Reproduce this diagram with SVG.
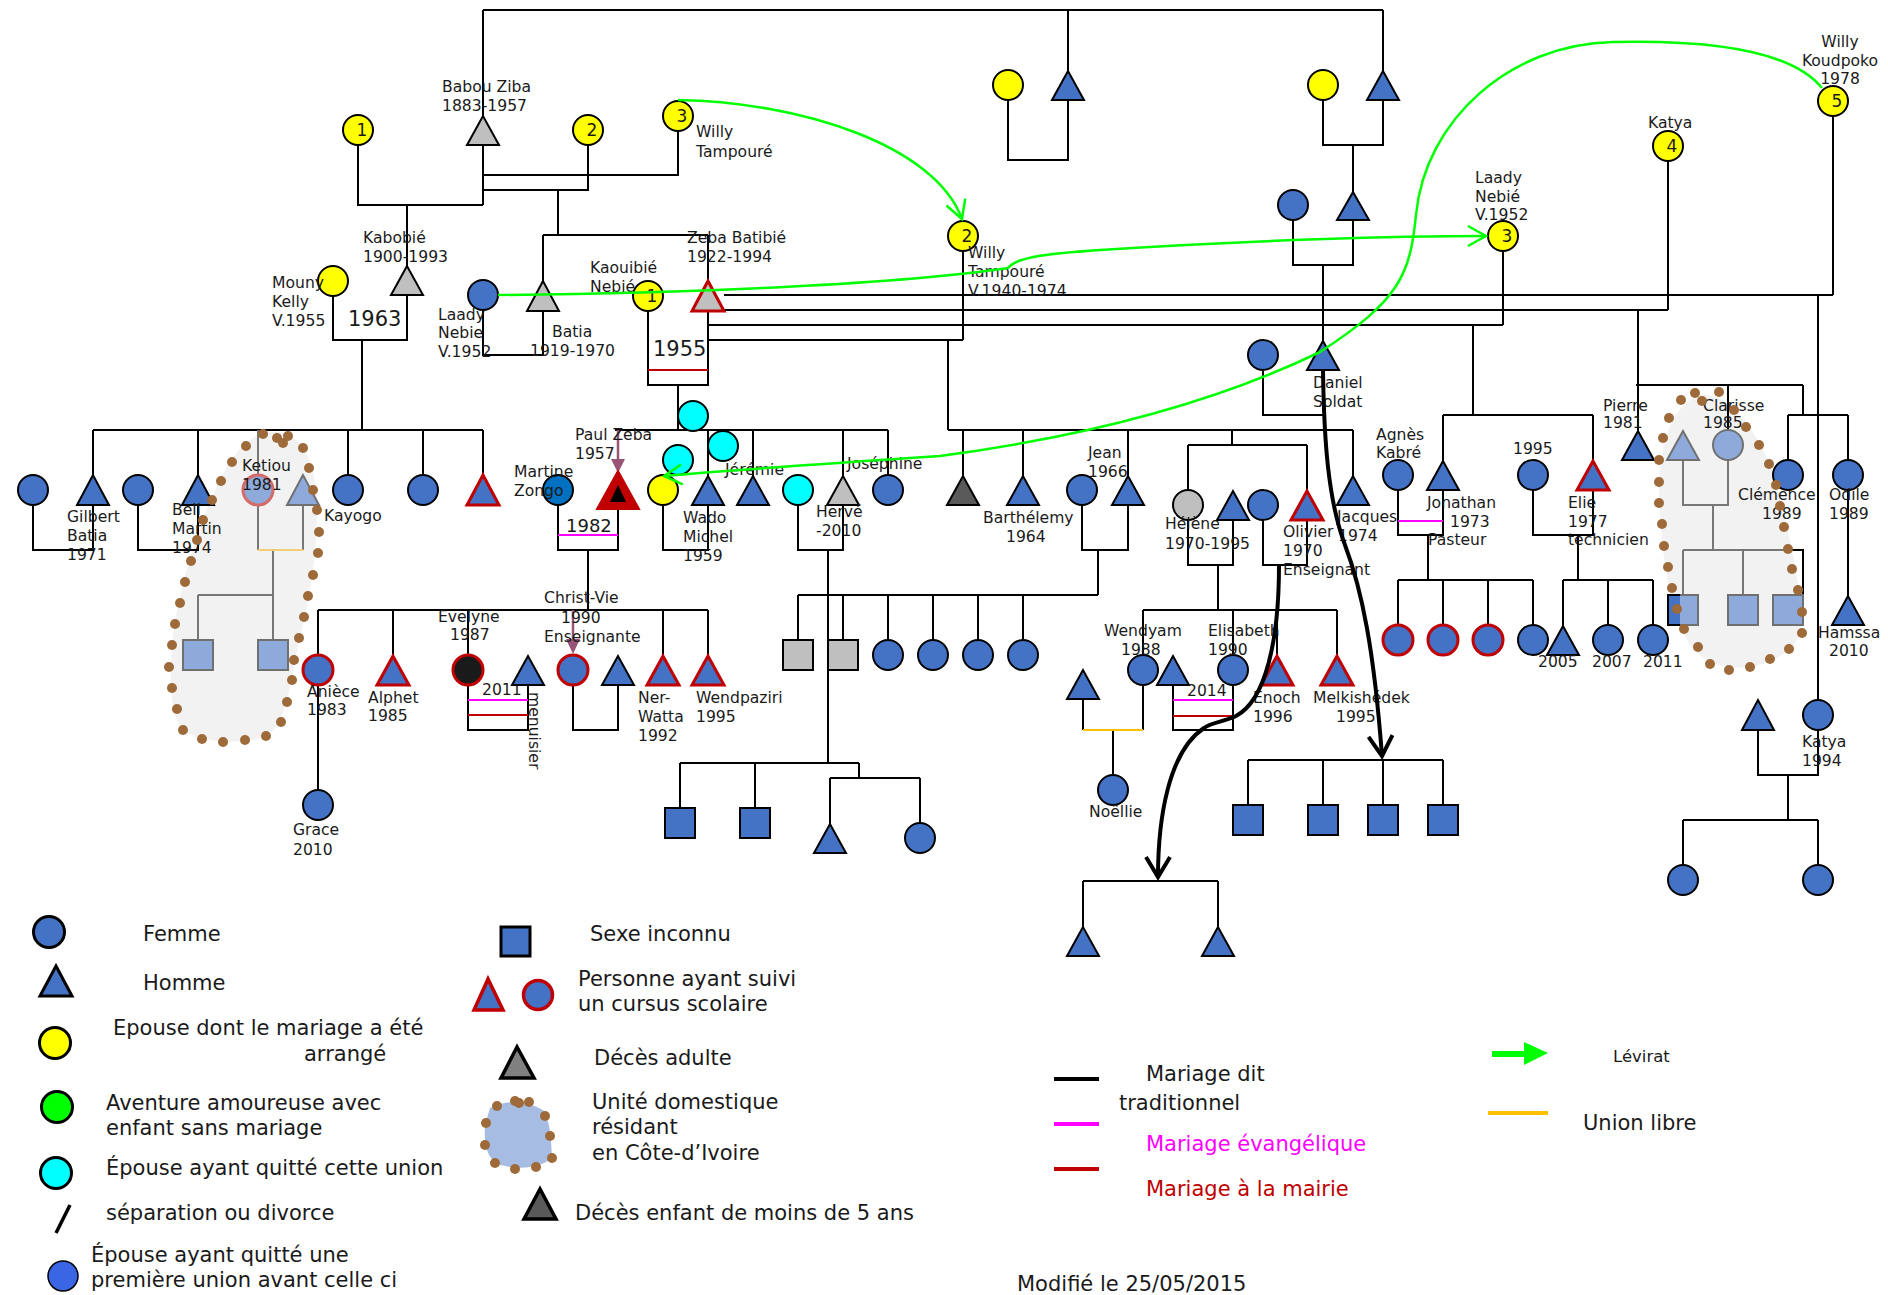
<svg xmlns="http://www.w3.org/2000/svg" width="1888" height="1295" viewBox="0 0 1888 1295">
<defs>
<style>
.l{fill:none;stroke:#000;stroke-width:2}
.lg2{fill:none;stroke:#777;stroke-width:2}
.pk{fill:none;stroke:#ff00ff;stroke-width:2}
.rd{fill:none;stroke:#c00000;stroke-width:2}
.or{fill:none;stroke:#ffc000;stroke-width:2}
.b{fill:#4472c4;stroke:#000;stroke-width:2}
.bl{fill:#8eaadb;stroke:#707070;stroke-width:2}
.y{fill:#ffff00;stroke:#000;stroke-width:2}
.cy{fill:#00ffff;stroke:#000;stroke-width:2}
.gr{fill:#bfbfbf;stroke:#000;stroke-width:2}
.dk{fill:#5a5a5a;stroke:#000;stroke-width:2}
.sc{fill:#4472c4;stroke:#c00000;stroke-width:3}
.gl{fill:none;stroke:#00ff00;stroke-width:2.5}
.tk{fill:none;stroke:#000;stroke-width:4}
.mv{fill:none;stroke:#985476;stroke-width:2.5}
.blob{fill:#f2f2f2}
.dot{fill:#9e6a3a}
text{font-family:"DejaVu Sans",Verdana,"Liberation Sans",sans-serif;font-size:15.6px;fill:#1a1a1a}
.big{font-size:21px}
.mid{font-size:18px}
.num{font-size:17px;text-anchor:middle}
.lgt{font-size:21px}
</style>
<marker id="ahg" markerUnits="userSpaceOnUse" markerWidth="24" markerHeight="24" viewBox="0 0 24 24" refX="21" refY="12" orient="auto"><path d="M3 2 L21 12 L3 22" fill="none" stroke="#00ff00" stroke-width="2.5"/></marker>
<marker id="ahk" markerUnits="userSpaceOnUse" markerWidth="28" markerHeight="30" viewBox="0 0 28 30" refX="24" refY="15" orient="auto"><path d="M4 3 L24 15 L4 27" fill="none" stroke="#000" stroke-width="4"/></marker>
</defs>
<rect width="1888" height="1295" fill="#fff"/>

<g id="domestic-units">
<path class="blob" d="M270 432 C295 430 312 450 316 490 C320 540 310 600 298 645 C290 690 285 725 265 737 C240 745 200 743 183 730 C168 715 168 660 176 615 C185 570 200 520 220 480 C235 450 250 434 270 432 Z"/>
<path class="blob" d="M1700 395 C1730 392 1755 430 1770 465 C1785 510 1795 560 1802 610 C1805 640 1790 655 1760 665 C1730 672 1705 665 1690 645 C1670 615 1662 560 1659 500 C1658 450 1670 405 1700 395 Z"/>
</g>

<g id="connectors">
<path class="l" d="M483 10 H1383 M483 10 V116 M1068 10 V71 M1383 10 V71"/>
<path class="l" d="M483 145 V205 M358 145 V205 H483 M588 145 V190 H483 M678 131 V175 H483 M407 205 V266 M558 190 V235 M543 235 H708 M543 235 V281 M708 235 V281"/>
<path class="l" d="M1008 100 V160 H1068 V100 M1323 100 V145 H1383 V100 M1353 145 V192 M1293 220 V265 H1353 V220 M1323 265 V341 M1263 370 V415 H1323"/>
<path class="l" d="M333 296 V340 H407 V295 M362 340 V430 M93 430 H483 M93 430 V475 M198 430 V475 M348 430 V475 M423 430 V475 M483 430 V475"/>
<path class="lg2" d="M258 430 V475"/>
<path class="l" d="M33 505 V550 H93 V505 M138 505 V550 H198 V505"/>
<path class="lg2" d="M258 505 V550 M303 505 V550 M273 550 V595 M198 595 H273 M198 595 V640 M273 595 V640"/>
<path d="M258 550 H303" fill="none" stroke="#f4cd72" stroke-width="2"/>
<path class="l" d="M483 310 V355 H543 V311"/>
<path class="l" d="M648 311 V385 H708 V311 M678 385 V430 M615 430 H888 M708 430 V476 M753 430 V476 M843 430 V476 M888 430 V475"/>
<path class="rd" d="M648 370 H708"/>
<path class="l" d="M724 295 H1833 M1833 116 V295 M724 310 H1668 M1668 161 V310 M708 325 H1503 M1503 251 V325 M708 340 H963 M963 251 V340"/>
<path class="l" d="M948 340 V430 M948 430 H1353 M963 430 V476 M1023 430 V476 M1128 430 V476 M1232 430 V445 M1353 430 V476"/>
<path class="l" d="M1473 325 V415 M1443 415 H1593 M1443 415 V461 M1593 415 V461"/>
<path class="l" d="M1638 310 V431 M1636 385 H1803 M1728 385 V430 M1803 385 V415 M1788 415 H1848 M1788 415 V460 M1848 415 V460 M1818 295 V700"/>
<path class="l" d="M558 505 V550 H618 V509 M588 550 V610 M318 610 H708 M318 610 V655 M393 610 V656 M468 610 V655 M663 610 V656 M708 610 V656 M318 685 V790"/>
<path class="pk" d="M558 535 H618"/>
<path class="l" d="M468 685 V730 H528 V685 M573 685 V730 H618 V685"/>
<path class="pk" d="M468 700 H528"/>
<path class="rd" d="M468 715 H528"/>
<path class="l" d="M663 505 V550 H708 V505 M798 505 V550 H843 V505 M828 550 V763 M680 763 H859 M680 763 V808 M755 763 V808 M859 763 V778 M830 778 H920 M830 778 V824 M920 778 V823"/>
<path class="l" d="M1082 505 V550 H1128 V505 M1098 550 V595 M798 595 H1098 M798 595 V640 M843 595 V640 M888 595 V640 M933 595 V640 M978 595 V640 M1023 595 V640"/>
<path class="l" d="M1188 445 H1307 M1188 445 V490 M1307 445 V491 M1188 520 V565 H1233 V520 M1263 520 V565 H1307 V520 M1218 565 V610 M1143 610 H1337 M1143 610 V655 M1233 610 V655 M1277 610 V656 M1337 610 V656"/>
<path class="l" d="M1083 699 V730 M1143 685 V730 M1113 730 V775 M1173 685 V730 H1233 V685"/>
<path class="or" d="M1083 730 H1143"/>
<path class="pk" d="M1173 700 H1233"/>
<path class="rd" d="M1173 716 H1233"/>
<path class="l" d="M1248 760 H1443 M1248 760 V805 M1323 760 V805 M1383 760 V805 M1443 760 V805 M1083 881 H1218 M1083 881 V927 M1218 881 V927"/>
<path class="l" d="M1398 490 V535 H1443 V490 M1428 535 V580 M1398 580 H1533 M1398 580 V625 M1443 580 V625 M1488 580 V625 M1533 580 V625"/>
<path class="pk" d="M1398 521 H1443"/>
<path class="l" d="M1533 490 V535 H1593 V490 M1578 535 V580 M1563 580 H1653 M1563 580 V626 M1608 580 V625 M1653 580 V625"/>
<path class="lg2" d="M1683 460 V505 H1728 V460 M1713 505 V550 M1683 550 H1788 M1683 550 V595 M1743 550 V595"/>
<path class="l" d="M1788 550 H1803 V595"/>
<path class="l" d="M1848 490 V596 M1758 730 V775 H1818 V730 M1788 775 V820 M1683 820 H1818 M1683 820 V865 M1818 820 V865"/>
<path class="mv" d="M618 430 V462 M573 610 V641"/>
<polygon points="611,459 625,459 618,473" fill="#985476"/>
<polygon points="566,639 580,639 573,654" fill="#985476"/>
</g>

<g id="nodes">
<g id="n-babou"><polygon class="gr" points="483,116 467,145 499,145"/><text x="442" y="92">Babou Ziba</text><text x="442" y="111">1883-1957</text></g>
<g id="n-epouse1"><circle class="y" cx="358" cy="130" r="15"/><text class="num" x="362" y="136">1</text></g>
<g id="n-epouse2"><circle class="y" cx="588" cy="130" r="15"/><text class="num" x="592" y="136">2</text></g>
<g id="n-willy-tampoure-a"><circle class="y" cx="678" cy="116" r="15"/><text class="num" x="682" y="122">3</text><text x="696" y="137">Willy</text><text x="696" y="157">Tampouré</text></g>
<g id="n-top-f1"><circle class="y" cx="1008" cy="85" r="15"/></g>
<g id="n-top-h1"><polygon class="b" points="1068,71 1052,100 1084,100"/></g>
<g id="n-top-f2"><circle class="y" cx="1323" cy="85" r="15"/></g>
<g id="n-top-h2"><polygon class="b" points="1383,71 1367,100 1399,100"/></g>
<g id="n-kabobie"><polygon class="gr" points="407,266 391,295 423,295"/><text x="363" y="243">Kabobié</text><text x="363" y="262">1900-1993</text><text class="big" x="348" y="326">1963</text></g>
<g id="n-mouny"><circle class="y" cx="333" cy="281" r="15"/><text x="272" y="288">Mouny</text><text x="272" y="307">Kelly</text><text x="272" y="326">V.1955</text></g>
<g id="n-laady-a"><circle class="b" cx="483" cy="295" r="15"/><text x="438" y="320">Laady</text><text x="438" y="338">Nebie</text><text x="438" y="357">V.1952</text></g>
<g id="n-batia"><polygon class="gr" points="543,281 527,311 559,311"/><text x="552" y="337">Batia</text><text x="530" y="356">1919-1970</text></g>
<g id="n-kaouibie"><circle class="y" cx="648" cy="296" r="15"/><text class="num" x="652" y="302">1</text><text x="590" y="273">Kaouibié</text><text x="590" y="292">Nebié</text></g>
<g id="n-zeba"><polygon points="708,281 692,311 724,311" fill="#bfbfbf" stroke="#c00000" stroke-width="3"/><text x="687" y="243">Zeba Batibié</text><text x="687" y="262">1922-1994</text><text class="big" x="653" y="356">1955</text></g>
<g id="n-willy-tampoure-b"><circle class="y" cx="963" cy="236" r="15"/><text class="num" x="967" y="242">2</text><text x="968" y="258">Willy</text><text x="968" y="277">Tampouré</text><text x="968" y="296">V.1940-1974</text></g>
<g id="n-laady-b"><circle class="y" cx="1503" cy="236" r="15"/><text class="num" x="1507" y="242">3</text><text x="1475" y="183">Laady</text><text x="1475" y="202">Nebié</text><text x="1475" y="220">V.1952</text></g>
<g id="n-katya-a"><circle class="y" cx="1668" cy="146" r="15"/><text class="num" x="1672" y="152">4</text><text x="1648" y="128">Katya</text></g>
<g id="n-willy-koudpoko"><circle class="y" cx="1833" cy="101" r="15"/><text class="num" x="1837" y="107">5</text><text x="1840" y="47" text-anchor="middle">Willy</text><text x="1840" y="66" text-anchor="middle">Koudpoko</text><text x="1840" y="84" text-anchor="middle">1978</text></g>
<g id="n-p1-f"><circle class="b" cx="1293" cy="205" r="15"/></g>
<g id="n-p1-h"><polygon class="b" points="1353,192 1337,220 1369,220"/></g>
<g id="n-daniel-wife"><circle class="b" cx="1263" cy="355" r="15"/></g>
<g id="n-daniel"><polygon class="b" points="1323,341 1307,370 1339,370"/><text x="1313" y="388">Daniel</text><text x="1313" y="407">Soldat</text></g>

<g id="n-r1-f1"><circle class="b" cx="33" cy="490" r="15"/></g>
<g id="n-gilbert"><polygon class="b" points="93,475 77,505 109,505"/><text x="67" y="522">Gilbert</text><text x="67" y="541">Batia</text><text x="67" y="560">1971</text></g>
<g id="n-r1-f2"><circle class="b" cx="138" cy="490" r="15"/></g>
<g id="n-bell"><polygon class="b" points="198,475 182,505 214,505"/><text x="172" y="515">Bell</text><text x="172" y="534">Martin</text><text x="172" y="553">1974</text></g>
<g id="n-ketiou"><circle cx="258" cy="490" r="15" fill="#8eaadb" stroke="#d46a6a" stroke-width="3"/><text x="242" y="471">Ketiou</text><text x="242" y="490">1981</text></g>
<g id="n-kayogo"><polygon class="bl" points="303,475 287,505 319,505"/><text x="324" y="521">Kayogo</text></g>
<g id="n-ketiou-c1"><rect class="bl" x="183" y="640" width="30" height="30"/></g>
<g id="n-ketiou-c2"><rect class="bl" x="258" y="640" width="30" height="30"/></g>
<g id="n-r1-f3"><circle class="b" cx="348" cy="490" r="15"/></g>
<g id="n-r1-f4"><circle class="b" cx="423" cy="490" r="15"/></g>
<g id="n-r1-h5"><polygon class="sc" points="483,475 467,505 499,505"/></g>
<g id="n-martine"><circle cx="558" cy="490" r="15" fill="#0070c0" stroke="#000" stroke-width="2"/><text x="514" y="477">Martine</text><text x="514" y="496">Zongo</text></g>
<g id="n-paul"><polygon points="618,471 597,509 639,509" fill="#c00000" stroke="#c00000" stroke-width="2"/><polygon points="618,485 610,502 626,502" fill="#000"/><text x="575" y="440">Paul Zeba</text><text x="575" y="459">1957</text><text class="mid" x="566" y="532">1982</text></g>
<g id="n-cyan1"><circle class="cy" cx="693" cy="416" r="15"/></g>
<g id="n-cyan2"><circle class="cy" cx="723" cy="446" r="15"/></g>
<g id="n-cyan3"><circle class="cy" cx="678" cy="460" r="15"/></g>
<g id="n-wado-wife"><circle class="y" cx="663" cy="490" r="15"/></g>
<g id="n-wado"><polygon class="b" points="708,476 692,505 724,505"/><text x="683" y="523">Wado</text><text x="683" y="542">Michel</text><text x="683" y="561">1959</text></g>
<g id="n-jeremie"><polygon class="b" points="753,476 737,505 769,505"/><text x="725" y="475">Jérémie</text></g>
<g id="n-herve-wife"><circle class="cy" cx="798" cy="490" r="15"/></g>
<g id="n-herve"><polygon class="gr" points="843,476 827,505 859,505"/><text x="816" y="517">Hervé</text><text x="816" y="536">-2010</text></g>
<g id="n-josephine"><circle class="b" cx="888" cy="490" r="15"/><text x="847" y="469">Joséphine</text></g>
<g id="n-dead-child"><polygon class="dk" points="963,476 947,505 979,505"/></g>
<g id="n-barthelemy"><polygon class="b" points="1023,476 1007,505 1039,505"/><text x="983" y="523">Barthélemy</text><text x="1006" y="542">1964</text></g>
<g id="n-jean-wife"><circle class="b" cx="1082" cy="490" r="15"/></g>
<g id="n-jean"><polygon class="b" points="1128,476 1112,505 1144,505"/><text x="1088" y="458">Jean</text><text x="1088" y="477">1966</text></g>
<g id="n-helene"><circle class="gr" cx="1188" cy="505" r="15"/><text x="1165" y="529">Hélène</text><text x="1165" y="549">1970-1995</text></g>
<g id="n-helene-h"><polygon class="b" points="1233,491 1217,520 1249,520"/></g>
<g id="n-olivier-wife"><circle class="b" cx="1263" cy="505" r="15"/></g>
<g id="n-olivier"><polygon class="sc" points="1307,491 1291,520 1323,520"/><text x="1283" y="537">Olivier</text><text x="1283" y="556">1970</text><text x="1283" y="575">Enseignant</text></g>
<g id="n-jacques"><polygon class="b" points="1353,476 1337,505 1369,505"/><text x="1337" y="522">Jacques</text><text x="1338" y="541">1974</text></g>
<g id="n-agnes"><circle class="b" cx="1398" cy="475" r="15"/><text x="1376" y="440">Agnès</text><text x="1376" y="458">Kabré</text></g>
<g id="n-jonathan"><polygon class="b" points="1443,461 1427,490 1459,490"/><text x="1427" y="508">Jonathan</text><text x="1450" y="527">1973</text><text x="1428" y="545">Pasteur</text></g>
<g id="n-elie-wife"><circle class="b" cx="1533" cy="475" r="15"/><text x="1513" y="454">1995</text></g>
<g id="n-elie"><polygon class="sc" points="1593,461 1577,490 1609,490"/><text x="1568" y="508">Elie</text><text x="1568" y="527">1977</text><text x="1568" y="545">technicien</text></g>
<g id="n-pierre"><polygon class="b" points="1638,431 1622,460 1654,460"/><text x="1603" y="411">Pierre</text><text x="1603" y="428">1981</text></g>
<g id="n-clarisse-h"><polygon class="bl" points="1683,431 1667,460 1699,460"/></g>
<g id="n-clarisse"><circle class="bl" cx="1728" cy="445" r="15"/><text x="1703" y="411">Clarisse</text><text x="1703" y="428">1985</text></g>
<g id="n-clarisse-c1"><rect class="bl" x="1668" y="595" width="30" height="30"/><path d="M1680 595 H1668 V625 H1680" fill="#4472c4" stroke="#000" stroke-width="2"/></g>
<g id="n-clarisse-c2"><rect class="bl" x="1728" y="595" width="30" height="30"/></g>
<g id="n-clarisse-c3"><rect class="bl" x="1773" y="595" width="30" height="30"/></g>
<g id="n-clemence"><circle class="b" cx="1788" cy="475" r="15"/><text x="1738" y="500">Clémence</text><text x="1762" y="519">1989</text></g>
<g id="n-odile"><circle class="b" cx="1848" cy="475" r="15"/><text x="1829" y="500">Odile</text><text x="1829" y="519">1989</text></g>
<g id="n-hamssa"><polygon class="b" points="1848,596 1832,625 1864,625"/><text x="1818" y="638">Hamssa</text><text x="1829" y="656">2010</text></g>
<g id="n-katya-1994"><circle class="b" cx="1818" cy="715" r="15"/><text x="1802" y="747">Katya</text><text x="1802" y="766">1994</text></g>
<g id="n-katya-h"><polygon class="b" points="1758,700 1742,730 1774,730"/></g>
<g id="n-katya-c1"><circle class="b" cx="1683" cy="880" r="15"/></g>
<g id="n-katya-c2"><circle class="b" cx="1818" cy="880" r="15"/></g>

<g id="n-aniece"><circle class="sc" cx="318" cy="670" r="15"/><text x="307" y="697">Anièce</text><text x="307" y="715">1983</text></g>
<g id="n-grace"><circle class="b" cx="318" cy="805" r="15"/><text x="293" y="835">Grace</text><text x="293" y="855">2010</text></g>
<g id="n-alphet"><polygon class="sc" points="393,656 377,685 409,685"/><text x="368" y="703">Alphet</text><text x="368" y="721">1985</text></g>
<g id="n-evelyne"><circle cx="468" cy="670" r="15" fill="#1a1a1a" stroke="#c00000" stroke-width="3"/><text x="438" y="622">Evelyne</text><text x="450" y="640">1987</text><text x="482" y="695">2011</text></g>
<g id="n-menuisier"><polygon class="b" points="528,656 512,685 544,685"/><text transform="translate(529,692) rotate(90)">menuisier</text></g>
<g id="n-christ-vie"><circle class="sc" cx="573" cy="670" r="15"/><text x="544" y="603">Christ-Vie</text><text x="561" y="623">1990</text><text x="544" y="642">Enseignante</text></g>
<g id="n-christ-vie-h"><polygon class="b" points="618,656 602,685 634,685"/></g>
<g id="n-ner-watta"><polygon class="sc" points="663,656 647,685 679,685"/><text x="638" y="703">Ner-</text><text x="638" y="722">Watta</text><text x="638" y="741">1992</text></g>
<g id="n-wendpaziri"><polygon class="sc" points="708,656 692,685 724,685"/><text x="696" y="703">Wendpaziri</text><text x="696" y="722">1995</text></g>
<g id="n-jean-c1"><rect class="gr" x="783" y="640" width="30" height="30"/></g>
<g id="n-jean-c2"><rect class="gr" x="828" y="640" width="30" height="30"/></g>
<g id="n-jean-c3"><circle class="b" cx="888" cy="655" r="15"/></g>
<g id="n-jean-c4"><circle class="b" cx="933" cy="655" r="15"/></g>
<g id="n-jean-c5"><circle class="b" cx="978" cy="655" r="15"/></g>
<g id="n-jean-c6"><circle class="b" cx="1023" cy="655" r="15"/></g>
<g id="n-herve-c1"><rect class="b" x="665" y="808" width="30" height="30"/></g>
<g id="n-herve-c2"><rect class="b" x="740" y="808" width="30" height="30"/></g>
<g id="n-herve-c3"><polygon class="b" points="830,824 814,853 846,853"/></g>
<g id="n-herve-c4"><circle class="b" cx="920" cy="838" r="15"/></g>
<g id="n-wendyam-h"><polygon class="b" points="1083,670 1067,699 1099,699"/></g>
<g id="n-wendyam"><circle class="b" cx="1143" cy="670" r="15"/><text x="1104" y="636">Wendyam</text><text x="1121" y="655">1988</text></g>
<g id="n-noellie"><circle class="b" cx="1113" cy="790" r="15"/><text x="1089" y="817">Noëllie</text></g>
<g id="n-elisabeth-h"><polygon class="b" points="1173,656 1157,685 1189,685"/></g>
<g id="n-elisabeth"><circle class="b" cx="1233" cy="670" r="15"/><text x="1208" y="636">Elisabeth</text><text x="1208" y="655">1990</text><text x="1187" y="696">2014</text></g>
<g id="n-enoch"><polygon class="sc" points="1277,656 1261,685 1293,685"/><text x="1253" y="703">Enoch</text><text x="1253" y="722">1996</text></g>
<g id="n-melkisedek"><polygon class="sc" points="1337,656 1321,685 1353,685"/><text x="1313" y="703">Melkishédek</text><text x="1336" y="722">1995</text></g>
<g id="n-olivier-c1"><polygon class="b" points="1083,927 1067,956 1099,956"/></g>
<g id="n-olivier-c2"><polygon class="b" points="1218,927 1202,956 1234,956"/></g>
<g id="n-daniel-c1"><rect class="b" x="1233" y="805" width="30" height="30"/></g>
<g id="n-daniel-c2"><rect class="b" x="1308" y="805" width="30" height="30"/></g>
<g id="n-daniel-c3"><rect class="b" x="1368" y="805" width="30" height="30"/></g>
<g id="n-daniel-c4"><rect class="b" x="1428" y="805" width="30" height="30"/></g>
<g id="n-jonathan-c1"><circle class="sc" cx="1398" cy="640" r="15"/></g>
<g id="n-jonathan-c2"><circle class="sc" cx="1443" cy="640" r="15"/></g>
<g id="n-jonathan-c3"><circle class="sc" cx="1488" cy="640" r="15"/></g>
<g id="n-jonathan-c4"><circle class="b" cx="1533" cy="640" r="15"/></g>
<g id="n-elie-c1"><polygon class="b" points="1563,626 1547,655 1579,655"/><text x="1538" y="667">2005</text></g>
<g id="n-elie-c2"><circle class="b" cx="1608" cy="640" r="15"/><text x="1592" y="667">2007</text></g>
<g id="n-elie-c3"><circle class="b" cx="1653" cy="640" r="15"/><text x="1643" y="667">2011</text></g>
</g>

<g id="connectors-overlay">
<path class="gl" d="M678 100 C800 102 935 145 962 219" marker-end="url(#ahg)"/>
<path class="gl" d="M498 295 C700 293 900 284 1008 268 C1016 258 1040 254 1100 250 C1250 240 1400 236 1486 236" marker-end="url(#ahg)"/>
<path class="gl" d="M1822 88 C1790 48 1700 40 1613 42 C1510 44 1425 120 1416 215 C1410 275 1400 300 1320 352 C1200 410 1060 440 940 456 C820 464 720 471 664 476" marker-end="url(#ahg)"/>
<path class="tk" d="M1279 565 C1279 640 1266 700 1236 716 C1224 722 1212 722 1204 728 C1168 752 1158 820 1158 877" marker-end="url(#ahk)"/>
<path class="tk" d="M1323 370 C1324 440 1328 500 1345 545 C1362 590 1374 650 1382 756" marker-end="url(#ahk)"/>
</g>

<g id="domestic-dots">
<circle class="dot" cx="263" cy="434" r="5"/><circle class="dot" cx="277" cy="438" r="5"/><circle class="dot" cx="283" cy="443" r="5"/><circle class="dot" cx="288" cy="436" r="5"/><circle class="dot" cx="303" cy="448" r="5"/><circle class="dot" cx="309" cy="468" r="5"/><circle class="dot" cx="313" cy="490" r="5"/><circle class="dot" cx="317" cy="510" r="5"/><circle class="dot" cx="319" cy="532" r="5"/><circle class="dot" cx="318" cy="553" r="5"/><circle class="dot" cx="313" cy="575" r="5"/><circle class="dot" cx="308" cy="596" r="5"/><circle class="dot" cx="304" cy="617" r="5"/><circle class="dot" cx="299" cy="638" r="5"/><circle class="dot" cx="294" cy="660" r="5"/><circle class="dot" cx="292" cy="680" r="5"/><circle class="dot" cx="287" cy="702" r="5"/><circle class="dot" cx="281" cy="722" r="5"/><circle class="dot" cx="266" cy="736" r="5"/><circle class="dot" cx="245" cy="740" r="5"/><circle class="dot" cx="223" cy="742" r="5"/><circle class="dot" cx="202" cy="739" r="5"/><circle class="dot" cx="183" cy="730" r="5"/><circle class="dot" cx="177" cy="709" r="5"/><circle class="dot" cx="172" cy="688" r="5"/><circle class="dot" cx="169" cy="667" r="5"/><circle class="dot" cx="172" cy="645" r="5"/><circle class="dot" cx="175" cy="624" r="5"/><circle class="dot" cx="180" cy="603" r="5"/><circle class="dot" cx="185" cy="582" r="5"/><circle class="dot" cx="191" cy="561" r="5"/><circle class="dot" cx="197" cy="540" r="5"/><circle class="dot" cx="203" cy="520" r="5"/><circle class="dot" cx="212" cy="500" r="5"/><circle class="dot" cx="221" cy="481" r="5"/><circle class="dot" cx="232" cy="462" r="5"/><circle class="dot" cx="246" cy="446" r="5"/>
<circle class="dot" cx="1669" cy="418" r="5"/><circle class="dot" cx="1681" cy="400" r="5"/><circle class="dot" cx="1695" cy="393" r="5"/><circle class="dot" cx="1702" cy="401" r="5"/><circle class="dot" cx="1719" cy="392" r="5"/><circle class="dot" cx="1734" cy="410" r="5"/><circle class="dot" cx="1746" cy="427" r="5"/><circle class="dot" cx="1759" cy="445" r="5"/><circle class="dot" cx="1769" cy="464" r="5"/><circle class="dot" cx="1776" cy="485" r="5"/><circle class="dot" cx="1780" cy="506" r="5"/><circle class="dot" cx="1784" cy="527" r="5"/><circle class="dot" cx="1788" cy="549" r="5"/><circle class="dot" cx="1792" cy="569" r="5"/><circle class="dot" cx="1798" cy="590" r="5"/><circle class="dot" cx="1802" cy="612" r="5"/><circle class="dot" cx="1802" cy="633" r="5"/><circle class="dot" cx="1789" cy="649" r="5"/><circle class="dot" cx="1770" cy="659" r="5"/><circle class="dot" cx="1750" cy="667" r="5"/><circle class="dot" cx="1729" cy="670" r="5"/><circle class="dot" cx="1710" cy="664" r="5"/><circle class="dot" cx="1698" cy="647" r="5"/><circle class="dot" cx="1684" cy="629" r="5"/><circle class="dot" cx="1677" cy="609" r="5"/><circle class="dot" cx="1672" cy="588" r="5"/><circle class="dot" cx="1668" cy="567" r="5"/><circle class="dot" cx="1664" cy="546" r="5"/><circle class="dot" cx="1662" cy="524" r="5"/><circle class="dot" cx="1659" cy="503" r="5"/><circle class="dot" cx="1659" cy="482" r="5"/><circle class="dot" cx="1659" cy="460" r="5"/><circle class="dot" cx="1663" cy="438" r="5"/>
</g>

<g id="legend">
<circle cx="49" cy="932" r="15.5" fill="#4472c4" stroke="#000" stroke-width="3"/>
<text class="lgt" x="143" y="941">Femme</text>
<polygon points="56,966 40,996 72,996" fill="#4472c4" stroke="#000" stroke-width="3"/>
<text class="lgt" x="143" y="990">Homme</text>
<circle cx="55" cy="1043" r="15.5" fill="#ffff00" stroke="#000" stroke-width="3"/>
<text class="lgt" x="113" y="1035">Epouse dont le mariage a été</text>
<text class="lgt" x="304" y="1061">arrangé</text>
<circle cx="57" cy="1107" r="15.5" fill="#00ff00" stroke="#000" stroke-width="3"/>
<text class="lgt" x="106" y="1110">Aventure amoureuse avec</text>
<text class="lgt" x="106" y="1135">enfant sans mariage</text>
<circle cx="56" cy="1173" r="15.5" fill="#00ffff" stroke="#000" stroke-width="3"/>
<text class="lgt" x="106" y="1175">Épouse ayant quitté cette union</text>
<line x1="56" y1="1233" x2="70" y2="1205" stroke="#000" stroke-width="3.5"/>
<text class="lgt" x="106" y="1220">séparation ou divorce</text>
<circle cx="63" cy="1276" r="15" fill="#3a66e6" stroke="#000" stroke-width="1.5"/>
<text class="lgt" x="91" y="1262">Épouse ayant quitté une</text>
<text class="lgt" x="91" y="1287">première union avant celle ci</text>

<rect x="501" y="927" width="29" height="29" fill="#4472c4" stroke="#000" stroke-width="3"/>
<text class="lgt" x="590" y="941">Sexe inconnu</text>
<polygon points="488,979 474,1010 503,1010" fill="#4472c4" stroke="#c00000" stroke-width="3.5"/>
<circle cx="538" cy="995" r="14.5" fill="#4472c4" stroke="#c00000" stroke-width="3.5"/>
<text class="lgt" x="578" y="986">Personne ayant suivi</text>
<text class="lgt" x="578" y="1011">un cursus scolaire</text>
<polygon points="517,1047 501,1078 534,1078" fill="#808080" stroke="#000" stroke-width="3.5"/>
<text class="lgt" x="594" y="1065">Décès adulte</text>
<path d="M490 1108 C505 1100 525 1100 543 1110 C552 1125 551 1145 552 1158 C540 1168 520 1170 500 1165 C485 1158 484 1140 485 1125 Z" fill="#a6bce3"/>
<circle class="dot" cx="497" cy="1106" r="5"/><circle class="dot" cx="515" cy="1101" r="5"/><circle class="dot" cx="519" cy="1103" r="5"/><circle class="dot" cx="529" cy="1102" r="5"/><circle class="dot" cx="545" cy="1116" r="5"/><circle class="dot" cx="550" cy="1136" r="5"/><circle class="dot" cx="552" cy="1158" r="5"/><circle class="dot" cx="536" cy="1167" r="5"/><circle class="dot" cx="515" cy="1169" r="5"/><circle class="dot" cx="495" cy="1163" r="5"/><circle class="dot" cx="485" cy="1145" r="5"/><circle class="dot" cx="486" cy="1123" r="5"/>
<text class="lgt" x="592" y="1109">Unité domestique</text>
<text class="lgt" x="592" y="1134">résidant</text>
<text class="lgt" x="592" y="1160">en Côte-d’Ivoire</text>
<polygon points="540,1189 524,1219 556,1219" fill="#5a5a5a" stroke="#000" stroke-width="3.5"/>
<text class="lgt" x="575" y="1220">Décès enfant de moins de 5 ans</text>

<line x1="1054" y1="1079" x2="1099" y2="1079" stroke="#000" stroke-width="4"/>
<text class="lgt" x="1146" y="1081">Mariage dit</text>
<text class="lgt" x="1119" y="1110">traditionnel</text>
<line x1="1054" y1="1124" x2="1099" y2="1124" stroke="#ff00ff" stroke-width="4"/>
<text class="lgt" x="1146" y="1151" style="fill:#ff00ff">Mariage évangélique</text>
<line x1="1054" y1="1169" x2="1099" y2="1169" stroke="#c00000" stroke-width="4"/>
<text class="lgt" x="1146" y="1196" style="fill:#c00000">Mariage à la mairie</text>
<text class="lgt" x="1017" y="1291">Modifié le 25/05/2015</text>

<polygon points="1492,1051 1524,1051 1524,1042 1548,1053 1524,1065 1524,1057 1492,1057" fill="#00ff00"/>
<text x="1613" y="1062" style="font-size:16.5px">Lévirat</text>
<line x1="1488" y1="1113" x2="1548" y2="1113" stroke="#ffc000" stroke-width="4"/>
<text class="lgt" x="1583" y="1130">Union libre</text>
</g>
</svg>
